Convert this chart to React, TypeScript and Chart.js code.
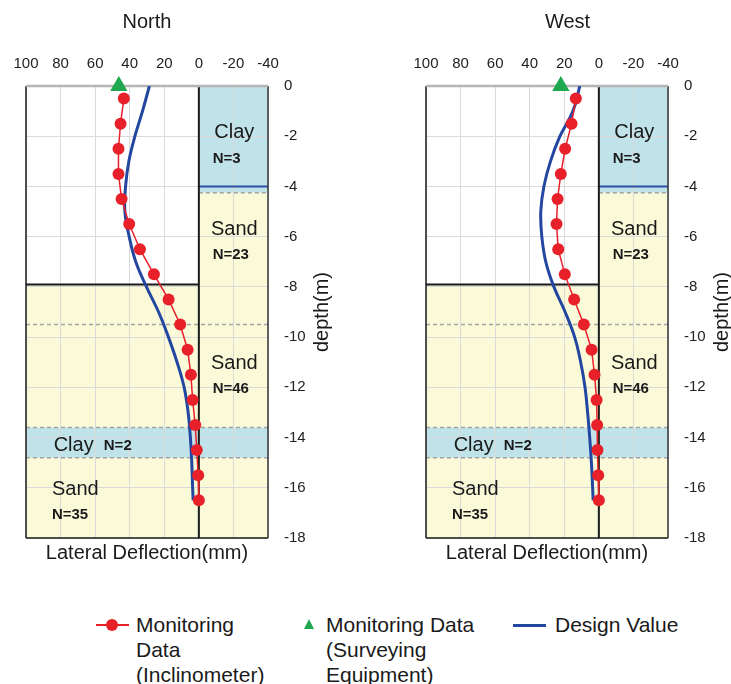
import { useEffect, useRef } from "react";
import { Chart, registerables } from "chart.js";

Chart.register(...registerables);

// ---------- data ----------
const inclinometerDepth = [-0.5, -1.5, -2.5, -3.5, -4.5, -5.5, -6.5, -7.5, -8.5, -9.5, -10.5, -11.5, -12.5, -13.5, -14.5, -15.5, -16.5];
const northInclinometer = [43.4, 45.3, 46.5, 46.5, 44.7, 40.3, 34.1, 26.0, 17.5, 10.8, 6.5, 4.6, 3.6, 2.1, 1.2, 0.4, 0];
const westInclinometer = [13.3, 15.8, 19.5, 22.0, 23.9, 24.5, 23.5, 19.7, 14.3, 8.7, 4.2, 2.5, 1.3, 1.0, 0.8, 0.4, 0];

const designDepth = [0, -1, -2, -3, -4, -5, -6, -7, -8, -9, -10, -11, -12, -13, -14, -15, -16, -16.5];
const northDesign = [28.6, 32.6, 37.0, 40.5, 42.4, 42.8, 40.3, 36.5, 30.3, 23.3, 17.6, 12.6, 8.5, 6.2, 4.9, 4.1, 3.6, 3.3];
const westDesign = [11.0, 15.0, 22.5, 28.0, 31.8, 33.6, 33.0, 30.7, 26.0, 19.5, 14.0, 10.5, 8.0, 6.5, 5.3, 4.3, 3.6, 3.3];

const surveyDepth = [0];
const northSurvey = [46.3];
const westSurvey = [22.0];

const xRange = [-40, 100];
const depthRange = [-18, 0];

// soil layer boundaries (m)
const upperClayBottom = -4;
const upperSandTop = -4.25;
const excavationLevel = -7.9;
const sandBoundary = -9.5;
const clayBandTop = -13.6;
const clayBandBottom = -14.8;

const soilNames = ["Clay", "Sand", "Sand", "Clay", "Sand"];
const soilN = ["N=3", "N=23", "N=46", "N=2", "N=35"];

// ---------- styles / layout ----------
const FONT = "'Liberation Sans', Arial, Helvetica, sans-serif";
const RED = "#e8202a";
const GREEN = "#1fa84f";
const BLUE = "#2347a0";
const CLAY = "#bfe3e9";
const SAND = "#fafad8";
const TEXT = "#1a1a1a";

// label anchor positions in data units: [x, y, align]
const nameAnchors: [number, number, CanvasTextAlign][] = [
  [-20.5, -1.87, "center"],
  [-20.5, -5.7, "center"],
  [-20.5, -11.04, "center"],
  [84, -14.33, "left"],
  [85, -16.06, "left"],
];
const nAnchors: [number, number][] = [
  [-8, -2.91],
  [-8, -6.73],
  [-8, -12.07],
  [55, -14.33],
  [85, -17.09],
];

const soilPlugin = {
  id: "soilLayers",
  beforeDraw(chart: any) {
    const { ctx, scales } = chart;
    const x = scales.x;
    const y = scales.y;
    const X = (v: number) => x.getPixelForValue(v);
    const Y = (v: number) => y.getPixelForValue(v);
    const [xmin, xmax] = xRange;
    const [ymin, ymax] = depthRange;
    ctx.save();
    ctx.fillStyle = CLAY;
    ctx.fillRect(X(0), Y(ymax), X(xmin) - X(0), Y(upperSandTop) - Y(ymax));
    ctx.fillStyle = SAND;
    ctx.fillRect(X(0), Y(upperSandTop), X(xmin) - X(0), Y(ymin) - Y(upperSandTop));
    ctx.fillRect(X(xmax), Y(excavationLevel), X(0) - X(xmax), Y(ymin) - Y(excavationLevel));
    ctx.fillStyle = CLAY;
    ctx.fillRect(X(xmax), Y(clayBandTop), X(xmin) - X(xmax), Y(clayBandBottom) - Y(clayBandTop));
    ctx.restore();
  },
  beforeDatasetsDraw(chart: any) {
    const { ctx, scales, chartArea: a } = chart;
    const x = scales.x;
    const y = scales.y;
    const X = (v: number) => x.getPixelForValue(v);
    const Y = (v: number) => y.getPixelForValue(v);
    const [xmin, xmax] = xRange;
    const [ymin, ymax] = depthRange;
    const line = (x1: number, y1: number, x2: number, y2: number, color: string, w: number, dash: number[] = []) => {
      ctx.beginPath();
      ctx.setLineDash(dash);
      ctx.strokeStyle = color;
      ctx.lineWidth = w;
      ctx.moveTo(x1, y1);
      ctx.lineTo(x2, y2);
      ctx.stroke();
    };
    ctx.save();
    // dashed layer boundaries
    const dash = [4, 3];
    line(X(0), Y(upperSandTop), X(xmin), Y(upperSandTop), "#a3a3a3", 1.5, dash);
    line(X(xmax), Y(sandBoundary), X(xmin), Y(sandBoundary), "#a3a3a3", 1.5, dash);
    line(X(xmax), Y(clayBandTop), X(xmin), Y(clayBandTop), "#a3a3a3", 1.5, dash);
    line(X(xmax), Y(clayBandBottom), X(xmin), Y(clayBandBottom), "#a3a3a3", 1.5, dash);
    // solid lines
    line(X(0), Y(upperClayBottom), X(xmin), Y(upperClayBottom), "#2e4fa3", 2);
    line(X(xmax), Y(excavationLevel), X(0), Y(excavationLevel), "#1a1a1a", 2);
    line(X(0), Y(ymax), X(0), Y(ymin), "#1a1a1a", 2);
    // frame
    line(a.left, a.top, a.left, a.bottom, "#1a1a1a", 1.5);
    line(a.left, a.bottom, a.right, a.bottom, "#1a1a1a", 1.5);
    line(a.right, a.top, a.right, a.bottom, "#333333", 1.5);
    line(a.left, a.top, a.right, a.top, "#b5b5b5", 2.5);
    ctx.setLineDash([]);
    // soil labels
    ctx.fillStyle = TEXT;
    ctx.textBaseline = "middle";
    soilNames.forEach((name, i) => {
      const [vx, vy, align] = nameAnchors[i];
      ctx.font = `20px ${FONT}`;
      ctx.textAlign = align;
      ctx.fillText(name, X(vx), Y(vy));
    });
    soilN.forEach((n, i) => {
      const [vx, vy] = nAnchors[i];
      ctx.font = `bold 15px ${FONT}`;
      ctx.textAlign = "left";
      ctx.fillText(n, X(vx), Y(vy));
    });
    // rotated depth title (reads bottom to top)
    ctx.translate(a.right + 54, (a.top + a.bottom) / 2);
    ctx.rotate(-Math.PI / 2);
    ctx.font = `20px ${FONT}`;
    ctx.textAlign = "center";
    ctx.fillText("depth(m)", 0, 0);
    ctx.restore();
  },
};

function buildConfig(
  title: string,
  inclinometer: number[],
  survey: number[],
  design: number[],
  pad: { left: number; right: number },
  yAxisWidth: number,
  titleFull: boolean
): any {
  return {
    type: "scatter",
    data: {
      datasets: [
        {
          label: "Monitoring Data (Inclinometer)",
          data: inclinometerDepth.map((d, i) => ({ x: inclinometer[i], y: d })),
          showLine: true,
          borderColor: RED,
          backgroundColor: RED,
          borderWidth: 1.5,
          pointRadius: 6,
          pointBorderWidth: 0,
          tension: 0,
        },
        {
          label: "Monitoring Data (Surveying Equipment)",
          data: surveyDepth.map((d, i) => ({ x: survey[i], y: d })),
          pointStyle: "triangle",
          pointRadius: 10,
          backgroundColor: GREEN,
          borderColor: GREEN,
          pointBorderWidth: 0,
          clip: false,
        },
        {
          label: "Design Value",
          data: designDepth.map((d, i) => ({ x: design[i], y: d })),
          showLine: true,
          borderColor: BLUE,
          backgroundColor: BLUE,
          borderWidth: 3,
          pointRadius: 0,
          tension: 0.4,
        },
      ],
    },
    options: {
      responsive: false,
      animation: false,
      events: [],
      layout: { padding: { left: pad.left, right: pad.right, top: 0, bottom: 10 } },
      plugins: {
        legend: { display: false },
        tooltip: { enabled: false },
        title: {
          display: true,
          text: title,
          fullSize: titleFull,
          color: TEXT,
          font: { size: 20, weight: "normal", family: FONT },
          padding: { top: 10, bottom: 0 },
        },
      },
      scales: {
        x: {
          type: "linear",
          position: "top",
          min: xRange[0],
          max: xRange[1],
          reverse: true,
          ticks: { stepSize: 20, color: "#222", font: { size: 15, family: FONT }, padding: 13 },
          grid: { color: "#dadada", drawTicks: false, lineWidth: 1 },
          border: { display: false },
          afterFit: (s: any) => {
            s.height = 52;
          },
        },
        x2: {
          type: "linear",
          position: "bottom",
          min: 0,
          max: 1,
          ticks: { display: false },
          grid: { display: false, drawTicks: false },
          border: { display: false },
          title: {
            display: true,
            text: "Lateral Deflection(mm)",
            color: TEXT,
            font: { size: 20, family: FONT },
            padding: { top: 3, bottom: 0 },
          },
          afterFit: (s: any) => {
            s.height = 27;
          },
        },
        y: {
          type: "linear",
          position: "right",
          min: depthRange[0],
          max: depthRange[1],
          ticks: { stepSize: 2, color: "#222", font: { size: 15, family: FONT }, padding: 16 },
          grid: { color: "#dadada", drawTicks: false, lineWidth: 1 },
          border: { display: false },
          afterFit: (s: any) => {
            s.width = yAxisWidth;
          },
        },
      },
    },
    plugins: [soilPlugin],
  };
}

export default function App() {
  const leftRef = useRef<HTMLCanvasElement>(null);
  const rightRef = useRef<HTMLCanvasElement>(null);

  useEffect(() => {
    Chart.defaults.font.family = FONT;
    const left = new Chart(
      leftRef.current as HTMLCanvasElement,
      buildConfig("North", northInclinometer, northSurvey, northDesign, { left: 26, right: 0 }, 97, false)
    );
    const right = new Chart(
      rightRef.current as HTMLCanvasElement,
      buildConfig("West", westInclinometer, westSurvey, westDesign, { left: 61, right: 22 }, 41, true)
    );
    return () => {
      left.destroy();
      right.destroy();
    };
  }, []);

  const legendText: React.CSSProperties = {
    position: "absolute",
    top: 612,
    fontSize: 21,
    lineHeight: "25px",
    color: TEXT,
    whiteSpace: "nowrap",
  };

  return (
    <div style={{ position: "absolute", left: 0, top: 0, width: 731, height: 684, fontFamily: FONT, background: "#fff" }}>
      <canvas ref={leftRef} width={365} height={575} style={{ position: "absolute", left: 0, top: 0 }} />
      <canvas ref={rightRef} width={366} height={575} style={{ position: "absolute", left: 365, top: 0 }} />

      <div style={{ position: "absolute", left: 96, top: 624, width: 33, height: 2, background: RED }} />
      <div style={{ position: "absolute", left: 106, top: 619, width: 12, height: 12, borderRadius: "50%", background: RED }} />
      <div style={{ ...legendText, left: 136 }}>
        Monitoring<br />Data<br />(Inclinometer)
      </div>

      <div
        style={{
          position: "absolute",
          left: 304,
          top: 619,
          width: 0,
          height: 0,
          borderLeft: "5.5px solid transparent",
          borderRight: "5.5px solid transparent",
          borderBottom: `10px solid ${GREEN}`,
        }}
      />
      <div style={{ ...legendText, left: 326 }}>
        Monitoring Data<br />(Surveying<br />Equipment)
      </div>

      <div style={{ position: "absolute", left: 513, top: 624, width: 33, height: 3, background: BLUE }} />
      <div style={{ ...legendText, left: 555 }}>Design Value</div>
    </div>
  );
}
